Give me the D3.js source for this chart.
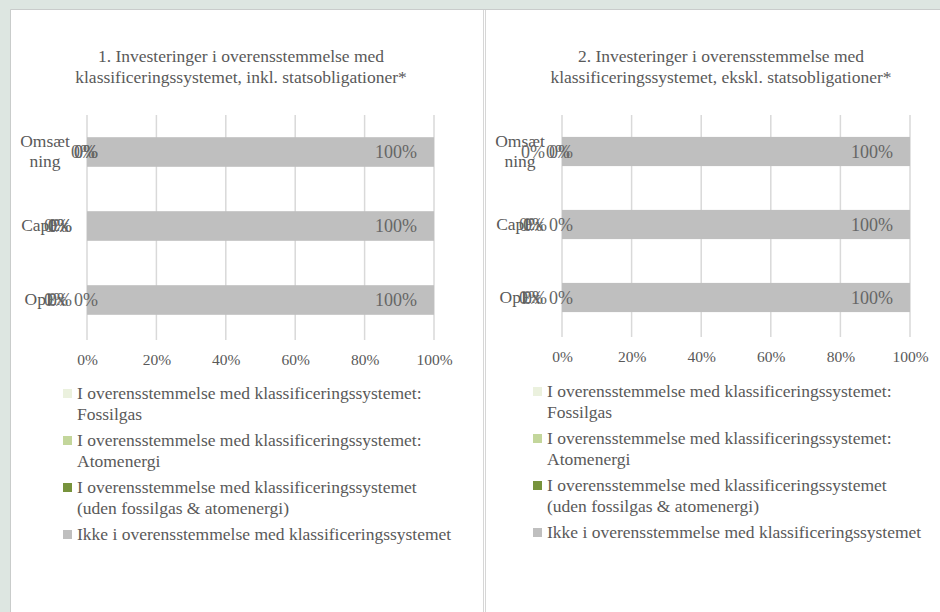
<!DOCTYPE html>
<html>
<head>
<meta charset="utf-8">
<script src="https://cdn.jsdelivr.net/npm/d3@7"></script>
<style>
  html, body { margin: 0; padding: 0; background: #dde6e1; }
  svg { display: block; font-family: "Liberation Serif", serif; }
  .title { fill: #595959; font-size: 17.5px; }
  .tick text { fill: #595959; font-size: 15.5px; }
  .cat { fill: #595959; font-size: 17.5px; }
  .value { fill: #666666; font-size: 18px; }
  .legend text { fill: #595959; font-size: 17.5px; }
</style>
</head>
<body>
<svg width="940" height="612"></svg>
<script>
// categories top to bottom
const categories = ["Omsætning", "CapEx", "OpEx"];
const seriesNames = [
  ["I overensstemmelse med klassificeringssystemet:", "Fossilgas"],
  ["I overensstemmelse med klassificeringssystemet:", "Atomenergi"],
  ["I overensstemmelse med klassificeringssystemet", "(uden fossilgas & atomenergi)"],
  ["Ikke i overensstemmelse med klassificeringssystemet"]
];
const colors = ["#ebf1de", "#c3d69b", "#77933c", "#bfbfbf"];
const xTicks = [0, 20, 40, 60, 80, 100];

// chart 1: inkl. statsobligationer
const fossil1 = [0, 0, 0];
const atom1 = [0, 0, 0];
const aligned1 = [0, 0, 0];
const notAligned1 = [100, 100, 100];

// chart 2: ekskl. statsobligationer
const fossil2 = [0, 0, 0];
const atom2 = [0, 0, 0];
const aligned2 = [0, 0, 0];
const notAligned2 = [100, 100, 100];

const title1 = ["1. Investeringer i overensstemmelse med", "klassificeringssystemet, inkl. statsobligationer*"];
const title2 = ["2. Investeringer i overensstemmelse med", "klassificeringssystemet, ekskl. statsobligationer*"];

// how far Excel pushed the zero labels sideways (px), per category per series
const shift1 = [[25, 28, 28], [-2, 2, 2], [-2, 2, 28]];
const shift2 = [[0, 25, 28], [-2, 2, 28], [-2, 2, 28]];

const svg = d3.select('svg');

// page frame
svg.append('rect').attr('x', 11).attr('y', 10).attr('width', 929).attr('height', 602).attr('fill', '#fff');
svg.append('line').attr('x1', 10.5).attr('x2', 10.5).attr('y1', 9.5).attr('y2', 612).attr('stroke', '#c9cccb');
svg.append('line').attr('x1', 10.5).attr('x2', 940).attr('y1', 9.5).attr('y2', 9.5).attr('stroke', '#c9cccb');
svg.append('line').attr('x1', 483.5).attr('x2', 483.5).attr('y1', 10).attr('y2', 612).attr('stroke', '#d6d6d6');
svg.append('line').attr('x1', 485.5).attr('x2', 485.5).attr('y1', 10).attr('y2', 612).attr('stroke', '#d6d6d6');

function drawPanel(cfg) {
  const data = categories.map((c, i) => ({
    cat: c,
    vals: [cfg.series[0][i], cfg.series[1][i], cfg.series[2][i], cfg.series[3][i]]
  }));

  const xScale = d3.scaleLinear().domain([0, 100]).range([cfg.x0, cfg.x1]);
  const yScale = d3.scaleBand().domain(categories).range([cfg.y0, cfg.y1])
    .paddingInner(0.6).paddingOuter(0.3);

  const g = svg.append('g');

  // title
  g.append('text')
    .attr('class', 'title')
    .attr('x', cfg.titleX)
    .attr('y', 62)
    .attr('text-anchor', 'middle')
    .selectAll('tspan')
    .data(cfg.title)
    .enter()
    .append('tspan')
    .attr('x', cfg.titleX)
    .attr('dy', (d, i) => i === 0 ? 0 : 21)
    .text(d => d);

  // grid
  g.append('g')
    .attr('class', 'grid')
    .selectAll('line')
    .data(xTicks)
    .enter()
    .append('line')
    .attr('x1', d => xScale(d))
    .attr('x2', d => xScale(d))
    .attr('y1', cfg.y0)
    .attr('y2', cfg.y1 + 3)
    .attr('stroke', '#d9d9d9')
    .attr('stroke-width', 1.5);

  // x axis labels
  const ax = g.append('g')
    .attr('transform', `translate(0, ${cfg.y1 + 14})`)
    .call(d3.axisBottom(xScale).tickValues(xTicks).tickFormat(d => d + '%').tickSize(0));
  ax.attr('font-family', null).attr('font-size', null);
  ax.select('.domain').remove();
  ax.selectAll('text').attr('dy', '0.71em');

  // category labels
  data.forEach(d => {
    const cy = yScale(d.cat) + yScale.bandwidth() / 2;
    const t = g.append('text')
      .attr('class', 'cat')
      .attr('text-anchor', 'middle');
    if (d.cat === 'Omsætning') {
      t.append('tspan').attr('x', xScale(0) - 42).attr('y', cy - 5).text('Omsæt');
      t.append('tspan').attr('x', xScale(0) - 42).attr('y', cy + 15).text('ning');
    } else {
      t.attr('x', xScale(0) - 42).attr('y', cy + 5).text(d.cat);
    }
  });

  // stacked bars
  data.forEach((d, ci) => {
    let acc = 0;
    d.vals.forEach((v, si) => {
      const start = acc;
      acc += v;
      g.append('rect')
        .attr('class', 'bar')
        .attr('x', xScale(start))
        .attr('y', yScale(d.cat))
        .attr('width', xScale(acc) - xScale(start))
        .attr('height', yScale.bandwidth())
        .attr('fill', colors[si]);
    });
  });

  // value labels (inside end)
  data.forEach((d, ci) => {
    let acc = 0;
    const cy = yScale(d.cat) + yScale.bandwidth() / 2;
    d.vals.forEach((v, si) => {
      acc += v;
      const shift = si < 3 ? cfg.shift[ci][si] : 0;
      g.append('text')
        .attr('class', 'value')
        .attr('x', xScale(acc) - 17 + shift)
        .attr('y', cy)
        .attr('dy', '0.35em')
        .attr('text-anchor', 'end')
        .text(v + '%');
    });
  });

  // legend
  const lg = g.append('g').attr('class', 'legend');
  let ly = cfg.legendY;
  seriesNames.forEach((lines, i) => {
    lg.append('rect')
      .attr('x', cfg.legendX)
      .attr('y', ly - 10)
      .attr('width', 9)
      .attr('height', 9)
      .attr('fill', colors[i]);
    const t = lg.append('text');
    lines.forEach((line, li) => {
      t.append('tspan')
        .attr('x', cfg.legendX + 14)
        .attr('y', ly + li * 21)
        .text(line);
    });
    ly += 47;
  });
}

drawPanel({
  series: [fossil1, atom1, aligned1, notAligned1],
  title: title1, titleX: 241,
  x0: 87, x1: 434, y0: 115, y1: 337,
  shift: shift1,
  legendX: 63, legendY: 399
});

drawPanel({
  series: [fossil2, atom2, aligned2, notAligned2],
  title: title2, titleX: 721,
  x0: 562, x1: 910, y0: 115, y1: 334,
  shift: shift2,
  legendX: 533, legendY: 397
});
</script>
</body>
</html>
